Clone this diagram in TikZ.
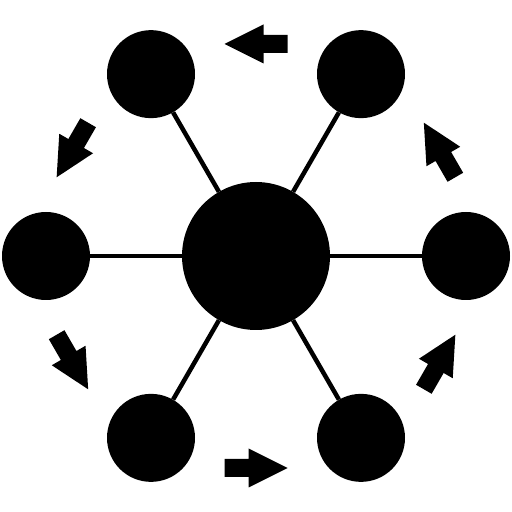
\documentclass[tikz,border=0pt]{standalone}
\usetikzlibrary{calc}
\begin{document}
\begin{tikzpicture}[x=1pt,y=1pt,
  hub/.style={circle,fill=black,minimum size=148pt,inner sep=0pt},
  leaf/.style={circle,fill=black,minimum size=88pt,inner sep=0pt},
  spoke/.style={line width=4.5pt,black},
  flowarrow/.style={fill=black}]
\useasboundingbox (0,0) rectangle (512,512);
\foreach \i in {0,...,5} {
  \coordinate (p\i) at ($(256,256)+(\i*60:210)$);
}
\node[hub] (c) at (256,256) {};
\foreach \i in {0,...,5} {
  \node[leaf] (n\i) at (p\i) {};
  \draw[spoke] (c) -- (n\i);
}
\foreach \a in {90,150,210,270,330,30} {
  \fill[flowarrow,shift={(256,256)},rotate=\a]
    (203,-31.5) -- (221,-31.5) -- (221,-7.5) -- (231.5,-7.5) -- (212,31.5)
    -- (192.5,-7.5) -- (203,-7.5) -- cycle;
}
\end{tikzpicture}
\end{document}
